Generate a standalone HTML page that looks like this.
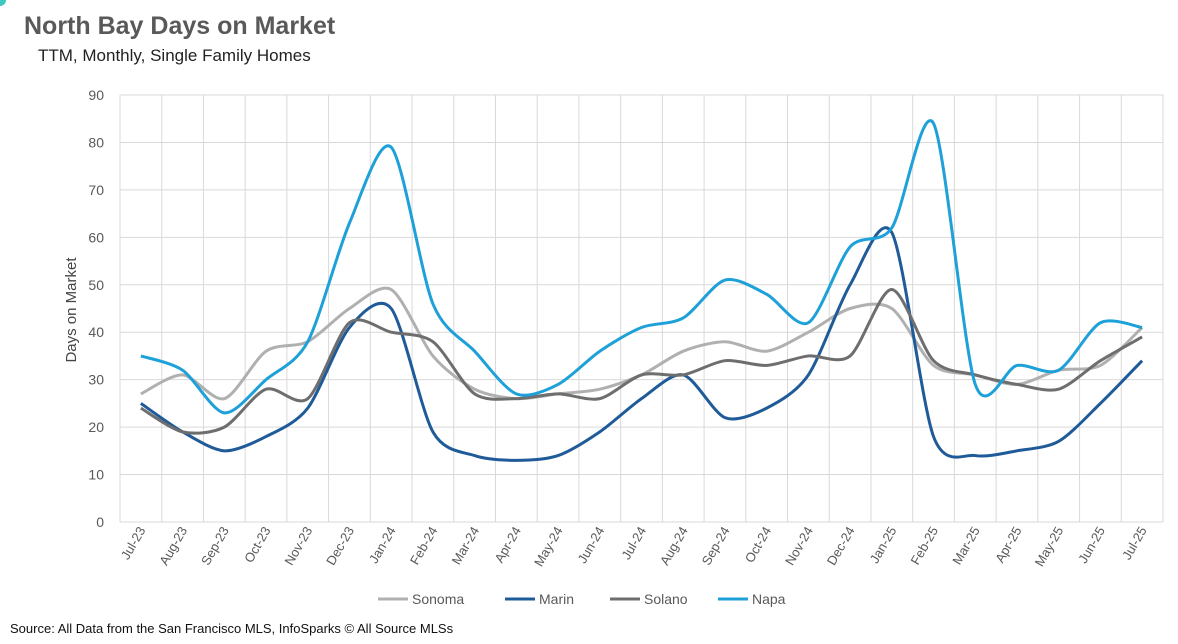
<!DOCTYPE html>
<html><head><meta charset="utf-8"><style>
body{margin:0;width:1178px;height:644px;background:#fff;overflow:hidden;font-family:"Liberation Sans",sans-serif;}
svg{position:absolute;left:0;top:0}
</style></head><body>
<svg id="c" width="1178" height="644">
<path d="M0,0 L6,0 A6,6 0 0 1 0,6Z" fill="#3cc8c0"/>
<text x="24" y="34" font-size="25" font-weight="bold" fill="#595959">North Bay Days on Market</text>
<text x="38" y="61" font-size="17" fill="#222">TTM, Monthly, Single Family Homes</text>
<text x="76" y="310" font-size="15" fill="#444" text-anchor="middle" transform="rotate(-90 76 310)">Days on Market</text>
<text x="10" y="633" font-size="13" fill="#111">Source: All Data from the San Francisco MLS, InfoSparks © All Source MLSs</text>
<g id="grid"></g><g id="lines"></g><g id="ticks"></g><g id="legend"></g>
</svg>
<script>
const categories=["Jul-23","Aug-23","Sep-23","Oct-23","Nov-23","Dec-23","Jan-24","Feb-24","Mar-24","Apr-24","May-24","Jun-24","Jul-24","Aug-24","Sep-24","Oct-24","Nov-24","Dec-24","Jan-25","Feb-25","Mar-25","Apr-25","May-25","Jun-25","Jul-25"];
const sonoma=[27,31,26,36,38,45,49,35,28,26,27,28,31,36,38,36,40,45,45,33,31,29,32,33,41];
const marin=[25,19,15,18,24,41,45,19,14,13,14,19,26,31,22,24,31,50,61,18,14,15,17,25,34];
const solano=[24,19,20,28,26,42,40,38,27,26,27,26,31,31,34,33,35,35,49,34,31,29,28,34,39];
const napa=[35,32,23,30,38,63,79,46,36,27,29,36,41,43,51,48,42,58,62,84,29,33,32,42,41];
const yTicks=[0,10,20,30,40,50,60,70,80,90];
const seriesNames=["Sonoma","Marin","Solano","Napa"];
const seriesColors=["#b0b0b0","#1f5b99","#6e6e6e","#1ea0d8"];
const series=[sonoma,marin,solano,napa];
const L=120,R=1163,T=95,B=522,yMax=90;
const bw=(R-L)/categories.length;
const xS=i=>L+bw*(i+0.5);
const yS=v=>B-(v/yMax)*(B-T);
const NS="http://www.w3.org/2000/svg";
function mk(tag,attrs,parent){const e=document.createElementNS(NS,tag);for(const k in attrs)e.setAttribute(k,attrs[k]);parent.appendChild(e);return e;}
const grid=document.getElementById('grid'),ticks=document.getElementById('ticks'),lines=document.getElementById('lines'),leg=document.getElementById('legend');
yTicks.forEach(v=>{
 const l=mk('line',{x1:L,x2:R,y1:yS(v),y2:yS(v),stroke:'#d9d9d9','stroke-width':1},grid);
 
 
 const t=mk('text',{x:104,y:yS(v)+5,'font-size':14,fill:'#595959','text-anchor':'end'},ticks);
 t.textContent=v;
 
 
});
for(let i=0;i<=categories.length;i++){
 const l=mk('line',{x1:L+bw*i,x2:L+bw*i,y1:T,y2:B,stroke:'#d9d9d9','stroke-width':1},grid);
 
 
}
categories.forEach((c,i)=>{
 const x=xS(i)+5,y=530;
 const t=mk('text',{x:x,y:y,'font-size':13,fill:'#595959','text-anchor':'end',transform:`rotate(-60 ${x} ${y})`},ticks);
 t.textContent=c;
 
 
});
function smooth(vals){
 const p=vals.map((v,i)=>[xS(i),yS(v)]);let d=`M${p[0][0]},${p[0][1]}`;const k=0.14;
 for(let i=0;i<p.length-1;i++){const p0=p[i-1]||p[i],p1=p[i],p2=p[i+1],p3=p[i+2]||p2;
  d+=` C${p1[0]+(p2[0]-p0[0])*k},${p1[1]+(p2[1]-p0[1])*k} ${p2[0]-(p3[0]-p1[0])*k},${p2[1]-(p3[1]-p1[1])*k} ${p2[0]},${p2[1]}`;}
 return d;}
series.forEach((s,j)=>{
 const p=mk('path',{d:smooth(s),fill:'none',stroke:seriesColors[j],'stroke-width':3,'stroke-linejoin':'round'},lines);
 
 
});
const lx=[378,505,610,718];
seriesNames.forEach((n,j)=>{
 const g=mk('g',{},leg);
 
 
 mk('line',{x1:lx[j],x2:lx[j]+30,y1:599,y2:599,stroke:seriesColors[j],'stroke-width':3},g);
 const t=mk('text',{x:lx[j]+34,y:604,'font-size':14,fill:'#595959'},g);t.textContent=n;
});
</script>
</body></html>
